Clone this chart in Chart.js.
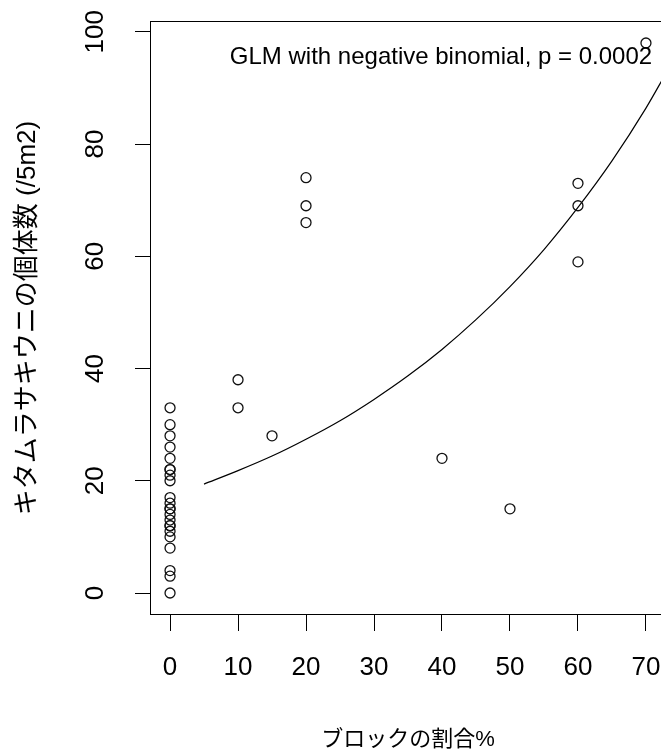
<!DOCTYPE html>
<html><head><meta charset="utf-8">
<script src="https://cdn.jsdelivr.net/npm/chart.js@4/dist/chart.umd.min.js"></script>
<style>
html,body{margin:0;padding:0;background:#fff;overflow:hidden;width:661px;height:753px}
#wrap{position:absolute;left:0;top:0;width:680px;height:753px}
</style>
</head><body><div id="wrap"><canvas id="c" width="680" height="753"></canvas></div>
<script>
// ---- data ----
const xTicks = [0, 10, 20, 30, 40, 50, 60, 70];
const yTicks = [0, 20, 40, 60, 80, 100];
const blockPct = [
  0,0,0,0,0,0,0,0,0,0,0,0,0,0,0,0,0,0,0,0,0,0,0,
  10,10, 15, 20,20,20, 40, 50, 60,60,60, 70
];
const urchinCount = [
  0,3,4,8,10,11,12,12,13,14,15,15,16,17,20,21,22,22,24,26,28,30,33,
  33,38, 28, 66,69,74, 24, 15, 59,69,73, 98
];
const fitX = [5, 10, 15, 20, 25, 30, 35, 40, 45, 50, 55, 60, 65, 70, 72.8];
const fitY = [19.4, 21.8, 24.4, 27.4, 30.7, 34.5, 38.7, 43.4, 48.7, 54.6, 61.2, 68.7, 77.0, 86.4, 92.3];
const xTitle = 'ブロックの割合%';
const yTitle = 'キタムラサキウニの個体数 (/5m2)';
const noteText = 'GLM with negative binomial, p = 0.0002';
const noteAt = {x: 70.9, y: 94.3};

const LAT = '"Liberation Sans", Arial, sans-serif';
const JP = '"Liberation Sans", "Noto Sans CJK JP", sans-serif';

const boxAndNote = {
  id: 'boxAndNote',
  afterDraw(chart) {
    const {ctx, chartArea: a, scales} = chart;
    ctx.save();
    ctx.strokeStyle = '#000';
    ctx.lineWidth = 1;
    ctx.strokeRect(Math.round(a.left) - 0.5, Math.round(a.top) + 0.5,
                   Math.round(a.right - a.left), Math.round(a.bottom - a.top) - 1);
    ctx.fillStyle = '#000';
    ctx.font = '24px ' + LAT;
    ctx.textAlign = 'right';
    ctx.textBaseline = 'alphabetic';
    ctx.fillText(noteText, scales.x.getPixelForValue(noteAt.x), scales.y.getPixelForValue(noteAt.y));
    ctx.restore();
  }
};

const pts = blockPct.map((x, i) => ({x, y: urchinCount[i]}));
const fit = fitX.map((x, i) => ({x, y: fitY[i]}));

new Chart(document.getElementById('c'), {
  type: 'scatter',
  data: {
    datasets: [
      {
        data: pts,
        pointStyle: 'circle',
        pointRadius: 5,
        pointBorderWidth: 1.3,
        pointBorderColor: '#111',
        pointBackgroundColor: 'rgba(0,0,0,0)',
        showLine: false
      },
      {
        data: fit,
        showLine: true,
        borderColor: '#000',
        borderWidth: 1.2,
        pointRadius: 0,
        cubicInterpolationMode: 'monotone',
        fill: false
      }
    ]
  },
  options: {
    responsive: false,
    animation: false,
    events: [],
    layout: {padding: {top: 21, right: 15, bottom: 0, left: 0}},
    plugins: {legend: {display: false}, tooltip: {enabled: false}},
    scales: {
      x: {
        type: 'linear', min: -2.8, max: 72.8,
        afterBuildTicks: s => { s.ticks = xTicks.map(v => ({value: v})); },
        afterFit: s => { s.height = 138; s.paddingLeft = 0; s.paddingRight = 0; s.paddingTop = 0; s.paddingBottom = 0; },
        grid: {display: true, drawOnChartArea: false, drawTicks: true, tickLength: 16, tickColor: '#000', tickWidth: 1},
        border: {display: false},
        ticks: {font: {family: LAT, size: 26}, color: '#000', padding: 21, minRotation: 0, maxRotation: 0, autoSkip: false},
        title: {display: true, text: xTitle, font: {family: JP, size: 22}, color: '#000', padding: {top: 0, bottom: 0}}
      },
      y: {
        type: 'linear', min: -3.92, max: 101.92,
        afterBuildTicks: s => { s.ticks = yTicks.map(v => ({value: v})); },
        afterFit: s => { s.width = 151; s.paddingLeft = 0; s.paddingRight = 0; s.paddingTop = 0; s.paddingBottom = 0; },
        grid: {display: true, drawOnChartArea: false, drawTicks: true, tickLength: 16, tickColor: '#000', tickWidth: 1},
        border: {display: false},
        ticks: {font: {family: LAT, size: 26}, color: '#000', padding: 17, minRotation: 90, maxRotation: 90, crossAlign: 'center', autoSkip: false},
        title: {display: true, text: yTitle, font: {family: JP, size: 26}, color: '#000', padding: {top: 12, bottom: 0}}
      }
    }
  },
  plugins: [boxAndNote]
});
</script>
</body></html>
